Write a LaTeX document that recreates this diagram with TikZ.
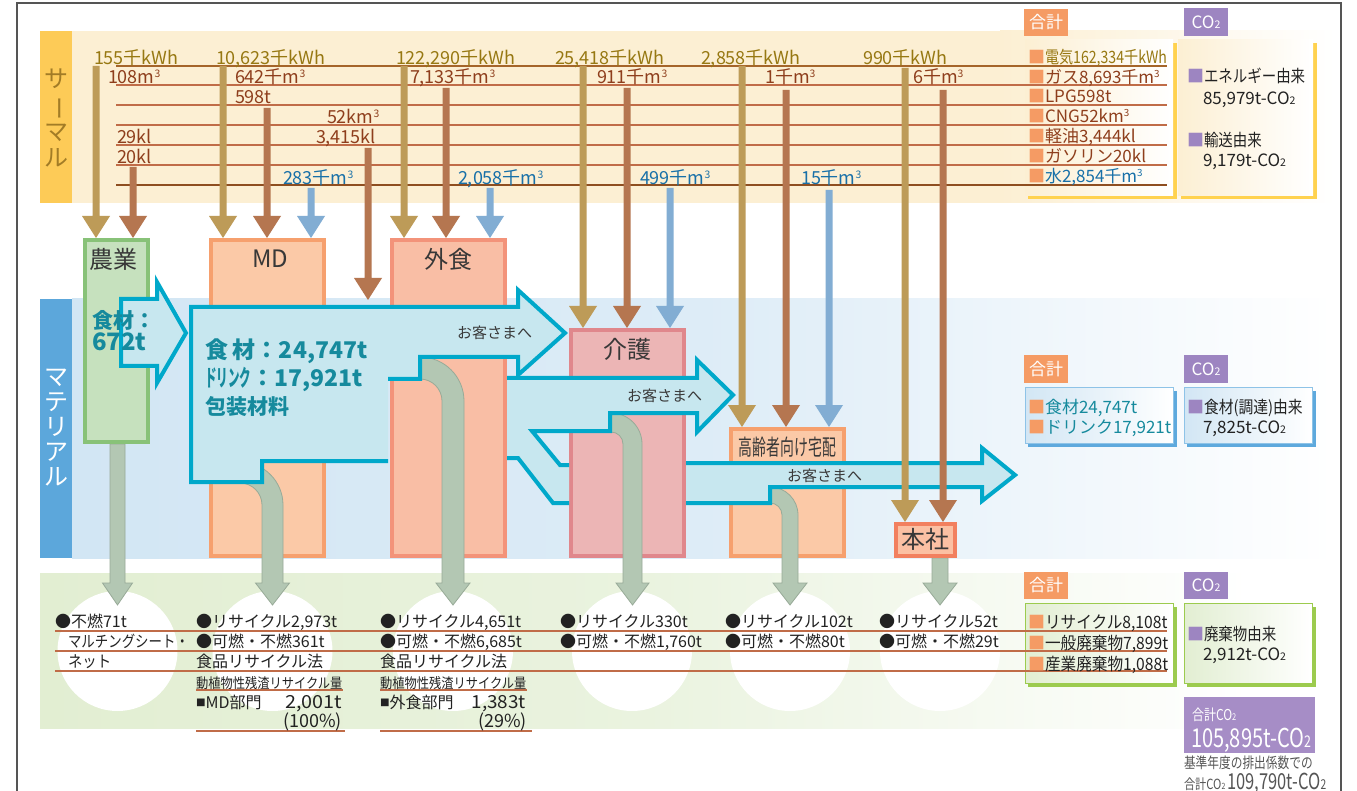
\documentclass[tikz,border=0pt]{standalone}
\usepackage{fontspec}
\usepackage{graphicx}
\setmainfont{Noto Sans CJK JP}
\usetikzlibrary{calc}
\definecolor{framec}{HTML}{555555}
\definecolor{thermbg}{HTML}{FCEFD3}
\definecolor{thermlab}{HTML}{FDCB57}
\definecolor{thermtxt}{HTML}{A27C26}
\definecolor{matbg}{HTML}{D2E6F4}
\definecolor{matmid}{HTML}{DDECF7}
\definecolor{matlab}{HTML}{5CA7DB}
\definecolor{wastebg}{HTML}{E2EED2}
\definecolor{wastemid}{HTML}{EAF3DF}
\definecolor{elec}{HTML}{BD9B58}
\definecolor{gas}{HTML}{B57650}
\definecolor{water}{HTML}{82ADD3}
\definecolor{electxt}{HTML}{977812}
\definecolor{gastxt}{HTML}{8E3E1C}
\definecolor{watertxt}{HTML}{1870A8}
\definecolor{lineA}{HTML}{A5652A}
\definecolor{lineB}{HTML}{C06C48}
\definecolor{lineC}{HTML}{8E4E20}
\definecolor{agribd}{HTML}{88C278}
\definecolor{agrifill}{HTML}{C6E1BE}
\definecolor{mdbd}{HTML}{F6A06E}
\definecolor{mdfill}{HTML}{FBC9A7}
\definecolor{gsbd}{HTML}{F3937A}
\definecolor{gsfill}{HTML}{F9BEA5}
\definecolor{kgbd}{HTML}{E0878C}
\definecolor{kgfill}{HTML}{ECB5B5}
\definecolor{hqbd}{HTML}{F2805F}
\definecolor{hqfill}{HTML}{FBC0A3}
\definecolor{flowbd}{HTML}{00A8CA}
\definecolor{flowfill}{HTML}{C7E7EF}
\definecolor{flowtxt}{HTML}{168A9D}
\definecolor{pipefill}{HTML}{B3C7B3}
\definecolor{pipebd}{HTML}{98AA98}
\definecolor{tagor}{HTML}{F59B64}
\definecolor{tagpu}{HTML}{9D85C1}
\definecolor{shyel}{HTML}{FFD24F}
\definecolor{shblue}{HTML}{5EA9DD}
\definecolor{shgreen}{HTML}{9CCB4E}
\definecolor{totpu}{HTML}{A68DC6}
\definecolor{txtdark}{HTML}{222222}
\definecolor{boxlab}{HTML}{383838}
\definecolor{graytxt}{HTML}{555555}
\newcommand\fs[1]{\fontsize{#1}{#1}\selectfont}
\newcommand\sub[1]{\scalebox{0.62}{#1}}
\newcommand\cu{\raisebox{0.36em}{\scalebox{0.58}{3}}}
\newcommand\csq[1]{\textcolor{#1}{■}}
\newcommand\smsq{\raisebox{0.12em}{\scalebox{0.6}{■}}}
\newcommand\hx[2]{\scalebox{#1}[1]{#2}}
\newcommand\tharrow[3]{\fill[#1] let \p1=(#2), \p2=(#3) in (\x1-3.5pt,\y1) -- (\x1+3.5pt,\y1) -- (\x1+3.5pt,\y2+22pt) -- (\x1+14pt,\y2+22pt) -- (\x1,\y2) -- (\x1-14pt,\y2+22pt) -- (\x1-3.5pt,\y2+22pt) -- cycle;}
\begin{document}
\begin{tikzpicture}[x=1pt,y=-1pt,every node/.style={inner sep=0pt,outer sep=0pt},
  flowbox/.style={draw, line width=4pt, outer sep=2pt, inner sep=0pt},
  pipe/.style={fill=pipefill, draw=pipebd, line width=0.8pt, line join=miter},
  flow/.style={draw=flowbd, line width=4pt, line join=miter},
  tl/.style={anchor=base west, font=\fs{18}},
  rt/.style={anchor=base west, font=\fs{17}, text=txtdark},
  wt/.style={anchor=base west, font=\fs{16}, text=txtdark},
  blab/.style={font=\fs{24}, text=boxlab},
  ftxt/.style={anchor=base west, text=flowtxt, font=\bfseries\fs{23}},
  guest/.style={anchor=base west, font=\fs{15}, text=boxlab},
  tagtxt/.style={text=white, font=\fs{17}}]
\fill[white] (0,0) rectangle (1357,791);
\useasboundingbox (0,0) rectangle (1357,791);
% ---------- bands
\fill[thermbg] (72,31) rectangle (1000,203);
\shade[left color=thermbg, right color=white] (1000,31) rectangle (1335,203);
\fill[thermlab] (40,31) rectangle (72,203);
\node[text=thermtxt, font=\fontsize{24}{26.5}\selectfont, align=center] (thlab) at (56,118) {サ\\\rotatebox[origin=c]{-90}{ー}\\マ\\ル};
\shade[left color=matbg, right color=white, middle color=matmid] (72,299) rectangle (1335,558);
\fill[matlab] (40,299) rectangle (72,558);
\node[text=white, font=\fontsize{24}{25}\selectfont, align=center] (matlabel) at (56,428) {マ\\テ\\リ\\ア\\ル};
\shade[left color=wastebg, right color=white, middle color=wastemid] (40,573) rectangle (1250,728);
\foreach \cx in {117.5,272.5,453,632,790,940} \fill[white] (\cx,651) circle[radius=60];
% frame
\draw[framec, line width=1.3pt] (17,791) -- (17,3) -- (1341,3) -- (1341,791);
% ---------- right panels
\fill[tagor] (1024,9) rectangle (1068,36); \node[tagtxt] (tagT1) at (1046,22.5) {合計};
\fill[tagpu] (1184,8) rectangle (1228,36); \node[tagtxt] (tagT2) at (1206,22) {CO\sub{2}};
\fill[shyel] (1028,43) rectangle (1177,199);
\shade[left color=thermbg, right color=white] (1025,40) rectangle (1173,196);
\fill[shyel] (1181,43) rectangle (1317,199);
\shade[left color=thermbg, right color=white] (1178,40) rectangle (1313,196);
\fill[tagor] (1024,355) rectangle (1068,383); \node[tagtxt] (tagM1) at (1046,369) {合計};
\fill[tagpu] (1184,355) rectangle (1228,383); \node[tagtxt] (tagM2) at (1206,369) {CO\sub{2}};
\fill[shblue] (1028,391) rectangle (1177,447);
\shade[left color=matbg, right color=white] (1025,387) rectangle (1173,443);
\draw[shblue!70, line width=0.8pt] (1025,387) rectangle (1173,443);
\fill[shblue] (1187,391) rectangle (1316,447);
\shade[left color=matbg, right color=white] (1184,387) rectangle (1312,443);
\draw[shblue!70, line width=0.8pt] (1184,387) rectangle (1312,443);
\fill[tagor] (1024,572) rectangle (1068,599); \node[tagtxt] (tagW1) at (1046,585.5) {合計};
\fill[tagpu] (1184,572) rectangle (1228,599); \node[tagtxt] (tagW2) at (1206,585.5) {CO\sub{2}};
\fill[shgreen] (1028,607) rectangle (1177,687);
\shade[left color=wastebg, right color=white] (1025,603) rectangle (1173,683);
\draw[shgreen, line width=0.8pt] (1025,603) rectangle (1173,683);
\fill[shgreen] (1187,607) rectangle (1316,687);
\shade[left color=wastebg, right color=white] (1184,603) rectangle (1312,683);
\draw[shgreen, line width=0.8pt] (1184,603) rectangle (1312,683);
\fill[totpu] (1184,697) rectangle (1315,753);
% ---------- horizontal rules
\draw[lineA, line width=1.5pt] (116,66) -- (1167,66);
\foreach \yy in {85,105,125,145,165} \draw[lineB, line width=1.5pt] (116,\yy) -- (1167,\yy);
\draw[lineC, line width=1.5pt] (116,185) -- (1167,185);
\foreach \yy in {631,651,671} \draw[lineB, line width=1.5pt] (55,\yy) -- (1167,\yy);
\draw[lineB, line width=1.2pt] (196,690) -- (343,690);
\draw[lineB, line width=1.2pt] (380,690) -- (527,690);
\draw[lineB, line width=1.2pt] (196,731) -- (345,731);
\draw[lineB, line width=1.2pt] (380,731) -- (532,731);
% ---------- flow boxes
\filldraw[pipe] (110,444) -- (125,444) -- (125,583) -- (132.5,583) -- (117.5,605) -- (102.5,583) -- (110,583) -- cycle;
\node[flowbox, draw=agribd, fill=agrifill, minimum width=63pt, minimum height=202pt] (agri) at (116.5,341) {};
\node[flowbox, draw=mdbd, fill=mdfill, minimum width=113pt, minimum height=316pt] (md) at (267.5,398) {};
\node[flowbox, draw=gsbd, fill=gsfill, minimum width=113pt, minimum height=316pt] (gs) at (448.5,398) {};
\node[flowbox, draw=kgbd, fill=kgfill, minimum width=113pt, minimum height=226pt] (kg) at (627.5,443) {};
\node[flowbox, draw=mdbd, fill=mdfill, minimum width=113pt, minimum height=127pt] (eld) at (787.5,492.5) {};
\filldraw[pipe] (932,558) -- (948,558) -- (948,583) -- (957,583) -- (940,605) -- (923,583) -- (932,583) -- cycle;
\node[flowbox, draw=hqbd, fill=hqfill, minimum width=59pt, minimum height=32pt] (hq) at (925.5,540) {};
\node[blab] (agrilab) at (113,259) {農業};
\node[blab] (mdlab) at (270,259) {MD};
\node[blab] (gslab) at (448.5,259) {外食};
\node[blab] (kglab) at (627.5,349) {介護};
\node[font=\fs{22}, text=boxlab] (eldlab) at (787.5,447) {\hx{0.63}{高齢者向け宅配}};
\node[blab] (hqlab) at (925.5,539) {本社};
% ---------- gray pipes
\filldraw[pipe] (228,462) -- (240,462) arc[start angle=-90,end angle=0,radius=43] -- (283,583) -- (289.5,583) -- (272.5,605) -- (255.5,583) -- (262,583) -- (262,505) arc[start angle=0,end angle=-90,radius=22] -- (228,483) -- cycle;
\filldraw[pipe] (410,357) -- (420,357) arc[start angle=-90,end angle=0,radius=44] -- (464,583) -- (470,583) -- (453,605) -- (436,583) -- (442,583) -- (442,401) arc[start angle=0,end angle=-90,radius=22] -- (410,379) -- cycle;
\filldraw[pipe] (605,413) -- (611,413) arc[start angle=-90,end angle=0,radius=31] -- (642,583) -- (649,583) -- (632.5,605) -- (616,583) -- (623,583) -- (623,444) arc[start angle=0,end angle=-90,radius=12] -- (605,432) -- cycle;
\filldraw[pipe] (765,487) -- (770,487) arc[start angle=-90,end angle=0,radius=28] -- (798,583) -- (807,583) -- (790,605) -- (773,583) -- (782,583) -- (782,515) arc[start angle=0,end angle=-90,radius=12] -- (765,503) -- cycle;
% ---------- material flow arrows
\fill[flowfill] (191,307) -- (518,307) -- (518,290) -- (565,333) -- (518,375) -- (518,357) -- (420,357) -- (420,379) -- (388,379) -- (388,461) -- (262,461) -- (262,482) -- (191,482) -- cycle;
\draw[flow] (388,461) -- (262,461) -- (262,482) -- (191,482) -- (191,307) -- (518,307) -- (518,290) -- (565,333) -- (518,375) -- (518,357) -- (420,357) -- (420,379) -- (388,379);
\fill[flowfill] (507,378) -- (697,378) -- (697,360) -- (733,395) -- (697,432) -- (697,413) -- (610,413) -- (610,431) -- (532,431) -- (560,465) -- (569,465) -- (569,503) -- (553,503) -- (518,458) -- (507,458) -- cycle;
\draw[flow] (507,378) -- (697,378) -- (697,360) -- (733,395) -- (697,432) -- (697,413) -- (610,413) -- (610,431) -- (532,431) -- (560,465) -- (569,465);
\draw[flow] (569,503) -- (553,503) -- (518,458) -- (507,458);
\fill[flowfill] (686,463) -- (982,463) -- (982,448) -- (1015,475) -- (982,501) -- (982,487) -- (770,487) -- (770,503) -- (686,503) -- cycle;
\draw[flow] (686,463) -- (982,463) -- (982,448) -- (1015,475) -- (982,501) -- (982,487) -- (770,487) -- (770,503) -- (686,503);
\filldraw[flow, fill=flowfill] (121,299) -- (157,299) -- (157,282) -- (186,333) -- (157,383) -- (157,366) -- (121,366) -- cycle;
\node[ftxt, font=\bfseries\fs{21}] (ft4) at (92,329) {食材：};
\node[ftxt, font=\bfseries\fs{24}] (ft5) at (92,351) {672t};
\node[ftxt] (ft1) at (205,359) {食\hspace{5pt}材：24,747t};
\node[ftxt] (ft2) at (205,386) {\hx{0.5}{ドリンク}：17,921t};
\node[ftxt, font=\bfseries\fs{21}] (ft3) at (205,414) {包装材料};
\node[guest] (g1lab) at (457,339) {お客さまへ};
\node[guest] (g2lab) at (627,401) {お客さまへ};
\node[guest] (g3lab) at (787,481) {お客さまへ};
% ---------- thermal arrows
\coordinate (e1) at (96,66); \coordinate (e2) at (223,66); \coordinate (e3) at (404,66);
\coordinate (e4) at (583,66); \coordinate (e5) at (742,66); \coordinate (e6) at (905,68);
\coordinate (g1) at (133,167); \coordinate (g2) at (267,108); \coordinate (g3) at (446,88);
\coordinate (g4) at (627,88); \coordinate (g5) at (786,90); \coordinate (g6) at (943,90);
\coordinate (g7) at (368,148); \coordinate (g7e) at (368,300);
\coordinate (w1) at (311,188); \coordinate (w2) at (490,188); \coordinate (w3) at (670,188); \coordinate (w4) at (829,190);
\tharrow{elec}{e1}{e1 |- agri.north}
\tharrow{elec}{e2}{e2 |- md.north}
\tharrow{elec}{e3}{e3 |- gs.north}
\tharrow{elec}{e4}{e4 |- kg.north}
\tharrow{elec}{e5}{e5 |- eld.north}
\tharrow{elec}{e6}{e6 |- hq.north}
\tharrow{gas}{g1}{g1 |- agri.north}
\tharrow{gas}{g2}{g2 |- md.north}
\tharrow{gas}{g3}{g3 |- gs.north}
\tharrow{gas}{g4}{g4 |- kg.north}
\tharrow{gas}{g5}{g5 |- eld.north}
\tharrow{gas}{g6}{g6 |- hq.north}
\tharrow{gas}{g7}{g7e}
\tharrow{water}{w1}{w1 |- md.north}
\tharrow{water}{w2}{w2 |- gs.north}
\tharrow{water}{w3}{w3 |- kg.north}
\tharrow{water}{w4}{w4 |- eld.north}
% ---------- thermal labels
\begin{scope}[every node/.append style={text=electxt}]
\node[tl] at (94,64.5) {155千kWh};
\node[tl] at (216,64.5) {10,623千kWh};
\node[tl] at (396,64.5) {122,290千kWh};
\node[tl] at (555,64.5) {25,418千kWh};
\node[tl] at (701,64.5) {2,858千kWh};
\node[tl] at (863,64.5) {990千kWh};
\end{scope}
\begin{scope}[every node/.append style={text=gastxt}]
\node[tl] at (108,84) {108m\cu};
\node[tl] at (235,84) {642千m\cu};
\node[tl] at (410,84) {7,133千m\cu};
\node[tl] at (597,84) {911千m\cu};
\node[tl] at (765,84) {1千m\cu};
\node[tl] at (913,84) {6千m\cu};
\node[tl] at (235,104) {598t};
\node[tl] at (327,124) {52km\cu};
\node[tl] at (117,144) {29kl};
\node[tl] at (316,144) {3,415kl};
\node[tl] at (117,164) {20kl};
\end{scope}
\begin{scope}[every node/.append style={text=watertxt}]
\node[tl] at (283,185) {283千m\cu};
\node[tl] at (458,185) {2,058千m\cu};
\node[tl] at (640,185) {499千m\cu};
\node[tl] at (801,185) {15千m\cu};
\end{scope}
% ---------- right panel texts
\node[rt] at (1028,64) {\csq{tagor}\textcolor{electxt}{\hx{0.83}{電気162,334千kWh}}};
\node[rt] at (1028,84) {\csq{tagor}\textcolor{gastxt}{ガス8,693千m\cu}};
\node[rt] at (1028,103) {\csq{tagor}\textcolor{gastxt}{LPG598t}};
\node[rt] at (1028,123) {\csq{tagor}\textcolor{gastxt}{CNG52km\cu}};
\node[rt] at (1028,143) {\csq{tagor}\textcolor{gastxt}{軽油3,444kl}};
\node[rt] at (1028,163) {\csq{tagor}\textcolor{gastxt}{ガソリン20kl}};
\node[rt] at (1028,183) {\csq{tagor}\textcolor{watertxt}{水2,854千m\cu}};
\node[rt] at (1187,83) {\csq{tagpu}\hx{0.85}{エネルギー由来}};
\node[rt] at (1203,105) {85,979t-CO\sub{2}};
\node[rt] at (1187,147) {\csq{tagpu}\hx{0.85}{輸送由来}};
\node[rt] at (1203,167) {9,179t-CO\sub{2}};
\node[rt] at (1028,413) {\csq{tagor}\textcolor{flowtxt}{食材24,747t}};
\node[rt] at (1028,433) {\csq{tagor}\textcolor{flowtxt}{ドリンク17,921t}};
\node[rt] at (1187,413) {\csq{tagpu}\hx{0.87}{食材(調達)由来}};
\node[rt] at (1203,433) {7,825t-CO\sub{2}};
\node[rt] at (1028,628) {\csq{tagor}\hx{0.92}{リサイクル8,108t}};
\node[rt] at (1028,649) {\csq{tagor}\hx{0.92}{一般廃棄物7,899t}};
\node[rt] at (1028,670) {\csq{tagor}\hx{0.92}{産業廃棄物1,088t}};
\node[rt] at (1187,640) {\csq{tagpu}\hx{0.85}{廃棄物由来}};
\node[rt] at (1203,660) {2,912t-CO\sub{2}};
\node[anchor=base west, text=white, font=\fs{15}] at (1192,720) {\hx{0.8}{合計CO\sub{2}}};
\node[anchor=base west, text=white, font=\fs{26}] at (1191,747) {\hx{0.77}{105,895t-CO\sub{2}}};
\node[anchor=base west, text=graytxt, font=\fs{15}] at (1184,768) {\hx{0.78}{基準年度の排出係数での}};
\node[anchor=base west, text=graytxt] at (1184,789) {\hx{0.8}{\fs{14}合計CO\sub{2}}\hspace{2pt}\hx{0.75}{\fs{22}109,790t-CO\sub{2}}};
% ---------- waste texts
\node[wt] at (55,627) {●不燃71t};
\node[wt] at (68,647) {\hx{0.84}{マルチングシート・}};
\node[wt] at (68,667) {\hx{0.9}{ネット}};
\node[wt] at (196,627) {●リサイクル2,973t};
\node[wt] at (196,647) {●可燃・不燃361t};
\node[wt] at (196,667) {食品リサイクル法};
\node[wt] at (196,688) {\hx{0.875}{\fs{14}動植物性残渣リサイクル量}};
\node[wt] at (196,708) {\smsq MD部門};
\node[wt, font=\fs{18}, anchor=base east] at (342,708) {\hx{1.1}{2,001t}};
\node[wt, font=\fs{18}, anchor=base east] at (342,727) {(100\%)};
\node[wt] at (380,627) {●リサイクル4,651t};
\node[wt] at (380,647) {●可燃・不燃6,685t};
\node[wt] at (380,667) {食品リサイクル法};
\node[wt] at (380,688) {\hx{0.875}{\fs{14}動植物性残渣リサイクル量}};
\node[wt] at (380,708) {\smsq 外食部門};
\node[wt, font=\fs{18}, anchor=base east] at (526,708) {\hx{1.05}{1,383t}};
\node[wt, font=\fs{18}, anchor=base east] at (527,727) {(29\%)};
\node[wt] at (560,627) {●リサイクル330t};
\node[wt] at (560,647) {●可燃・不燃1,760t};
\node[wt] at (725,627) {●リサイクル102t};
\node[wt] at (725,647) {●可燃・不燃80t};
\node[wt] at (879,627) {●リサイクル52t};
\node[wt] at (879,647) {●可燃・不燃29t};
\end{tikzpicture}
\end{document}
